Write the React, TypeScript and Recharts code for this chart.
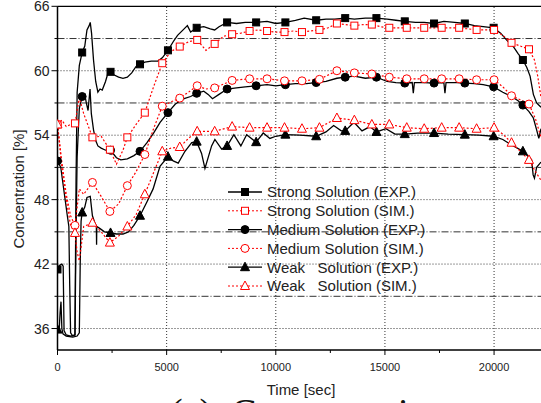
import { LineChart, Line, XAxis, YAxis, ReferenceLine } from 'recharts'

// time [s], concentration [%]
const expMarkT = [0, 1130, 2430, 3780, 5060, 6375, 7770, 9100, 10440, 11850, 13180, 14610, 15910, 17250, 18660, 19980, 21320]
const simMarkStep = 800

const strongExp = [
  [0, 41.5], [100, 41.9], [200, 42.0], [260, 41.8], [300, 35.8], [400, 35.4], [600, 35.3], [800, 35.4], [850, 50.0],
  [900, 58.0], [1000, 60.5], [1130, 61.7], [1250, 62.3], [1350, 63.8], [1450, 64.2], [1500, 64.5], [1560, 63.5],
  [1650, 61.0], [1750, 59.0], [1850, 58.0], [1950, 58.3], [2050, 58.2], [2200, 59.0], [2300, 59.7], [2430, 59.9],
  [2600, 59.6], [2800, 59.4], [3000, 59.3], [3200, 59.4], [3400, 59.8], [3600, 60.4], [3780, 60.6], [4000, 60.8],
  [4300, 60.9], [4600, 60.9], [4800, 61.2], [5060, 61.9], [5300, 62.7], [5500, 63.3], [5800, 63.9], [5950, 64.2],
  [6100, 63.6], [6375, 64.0], [6700, 64.1], [7000, 63.9], [7200, 63.8], [7400, 64.1], [7770, 64.5], [8200, 64.4],
  [8600, 64.5], [9100, 64.5], [9600, 64.6], [10000, 64.4], [10440, 64.5], [10900, 64.7], [11300, 64.9], [11850, 64.7],
  [12300, 64.8], [12700, 64.8], [13180, 64.9], [13600, 64.8], [14100, 64.9], [14610, 64.9], [15100, 64.8], [15500, 64.7],
  [15910, 64.6], [16400, 64.5], [16800, 64.5], [17250, 64.4], [17700, 64.6], [18200, 64.5], [18660, 64.4], [19100, 64.2],
  [19500, 64.1], [19980, 64.0], [20300, 63.5], [20600, 62.8], [20900, 62.2], [21100, 61.6], [21320, 61.0], [21500, 60.3],
  [21650, 59.5], [21800, 57.8], [21950, 57.0], [22150, 56.6],
]

const mediumExp = [
  [0, 51.6], [150, 51.0], [250, 49.5], [350, 48.0], [450, 46.5], [520, 45.5], [560, 40.0], [600, 35.6], [700, 35.3],
  [800, 35.4], [850, 45.0], [900, 52.0], [1000, 56.5], [1130, 57.6], [1250, 57.8], [1320, 57.0], [1400, 56.3],
  [1490, 58.3], [1550, 56.0], [1650, 54.5], [1750, 53.5], [1850, 53.0], [2000, 52.8], [2200, 52.6], [2430, 52.6],
  [2700, 51.9], [2900, 51.7], [3200, 51.8], [3500, 52.1], [3780, 52.5], [4100, 53.3], [4400, 54.2], [4700, 55.2],
  [5060, 56.1], [5400, 56.9], [5800, 57.4], [6100, 57.6], [6375, 57.9], [6700, 58.1], [6900, 57.8], [7100, 57.4],
  [7400, 57.8], [7770, 58.3], [8200, 58.4], [8600, 58.5], [9100, 58.6], [9600, 58.7], [10000, 58.6], [10440, 58.7],
  [10900, 58.8], [11400, 58.8], [11850, 58.9], [12300, 59.0], [12800, 59.3], [13180, 59.4], [13600, 59.5], [14100, 59.3],
  [14610, 59.4], [15100, 59.0], [15500, 58.9], [15910, 58.85], [16250, 58.9], [16300, 57.9], [16350, 58.9], [16800, 58.9],
  [17250, 58.85], [17700, 58.9], [17750, 57.9], [17800, 58.9], [18300, 58.9], [18660, 58.85], [19100, 58.8], [19500, 58.7],
  [19980, 58.5], [20400, 58.0], [20800, 57.6], [21100, 57.2], [21320, 56.8], [21600, 56.2], [21800, 55.6], [21950, 54.5],
  [22050, 53.7], [22150, 54.6],
]

const weakExp = [
  [0, 35.9], [80, 36.0], [120, 37.5], [160, 38.5], [200, 36.0], [250, 35.5], [400, 35.3], [700, 35.2], [900, 35.3],
  [1000, 35.6], [1040, 42.0], [1080, 46.0], [1130, 46.8], [1250, 47.3], [1350, 48.2], [1500, 48.3], [1600, 46.5],
  [1700, 45.9], [1780, 45.5], [1790, 43.8], [1800, 45.5], [1950, 45.3], [2150, 45.0], [2430, 44.9], [2700, 44.8],
  [3000, 44.8], [3250, 45.0], [3500, 45.6], [3780, 46.5], [4100, 47.8], [4380, 49.0], [4695, 51.1], [5060, 52.0],
  [5300, 51.6], [5530, 51.4], [5840, 52.5], [6150, 53.3], [6375, 53.4], [6600, 52.3], [6755, 50.9], [7060, 53.0],
  [7210, 53.6], [7520, 52.7], [7770, 53.0], [8080, 54.05], [8400, 53.0], [8665, 54.05], [9100, 53.35], [9425, 54.2],
  [9730, 53.7], [10000, 53.9], [10440, 54.05], [11100, 54.0], [11850, 53.9], [12300, 54.3], [12650, 54.9], [13000, 54.4],
  [13180, 54.4], [13580, 55.2], [13950, 54.4], [14310, 54.8], [14610, 54.3], [15045, 54.6], [15460, 54.1], [15910, 54.1],
  [16500, 54.2], [17250, 54.2], [17900, 54.1], [18660, 54.05], [19300, 54.0], [19980, 53.9], [20400, 53.6], [20800, 53.1],
  [21320, 52.5], [21720, 51.7], [21790, 50.3], [21850, 50.0], [21950, 51.0], [22150, 51.5],
]

const strongSim = [
  [0, 55.0], [200, 55.4], [400, 54.8], [600, 55.0], [800, 55.1], [1000, 57.5], [1200, 56.0], [1600, 53.8], [2000, 53.9],
  [2400, 52.65], [2700, 51.3], [3000, 52.6], [3200, 53.8], [3600, 55.0], [4000, 56.1], [4400, 58.5], [4800, 60.7],
  [5200, 61.8], [5600, 62.25], [6000, 62.7], [6400, 62.87], [6800, 61.9], [7200, 62.5], [7600, 63.2], [8000, 63.4],
  [8400, 63.5], [8800, 63.7], [9200, 63.8], [9600, 63.7], [10000, 63.6], [10400, 63.6], [10800, 63.7], [11200, 63.6],
  [11600, 63.7], [12000, 63.8], [12400, 64.0], [12800, 64.4], [13200, 64.3], [13600, 64.2], [14000, 64.3], [14400, 64.3],
  [14800, 64.1], [15200, 64.0], [16000, 64.0], [16800, 64.0], [17600, 64.0], [18400, 64.0], [19200, 63.8], [20000, 63.8],
  [20400, 63.3], [20800, 62.6], [21200, 62.3], [21600, 62.0], [21850, 61.0], [22000, 59.5], [22150, 57.5],
]

const mediumSim = [
  [0, 55.0], [200, 51.5], [400, 48.5], [600, 46.5], [800, 45.6], [1000, 49.0], [1200, 48.5], [1600, 49.6], [2000, 48.3],
  [2400, 46.9], [2800, 47.6], [3200, 49.3], [3600, 50.6], [4000, 52.2], [4400, 54.6], [4800, 56.7], [5200, 57.1],
  [5600, 57.45], [6000, 58.0], [6400, 58.6], [6800, 58.3], [7200, 58.4], [8000, 59.1], [8800, 59.25], [9600, 59.25],
  [10400, 59.06], [11200, 59.06], [12000, 59.2], [12800, 60.0], [13600, 59.8], [14400, 59.7], [15200, 59.4], [16000, 59.25],
  [16800, 59.25], [17600, 59.25], [18400, 59.25], [19200, 59.16], [20000, 59.16], [20400, 58.5], [20800, 57.67],
  [21200, 57.3], [21600, 56.9], [21900, 55.5], [22150, 53.8],
]

const weakSim = [
  [0, 55.0], [200, 51.0], [400, 48.0], [600, 45.6], [800, 44.9], [900, 43.1], [1000, 42.3], [1200, 45.5], [1600, 45.85],
  [2000, 45.0], [2400, 44.0], [2800, 44.6], [3200, 45.5], [3600, 46.6], [4000, 48.5], [4400, 50.5], [4800, 52.5],
  [5200, 52.8], [5600, 52.9], [6000, 53.7], [6400, 54.36], [7200, 54.36], [8000, 54.8], [8800, 54.7], [9600, 54.7],
  [10400, 54.7], [11200, 54.6], [12000, 54.7], [12800, 55.6], [13600, 55.4], [14400, 55.0], [15200, 55.0], [16000, 54.7],
  [16800, 54.6], [17600, 54.7], [18400, 54.7], [19200, 54.6], [20000, 54.7], [20400, 54.1], [20800, 53.3], [21200, 52.5],
  [21600, 51.7], [21900, 50.6], [22150, 49.8],
]

const xTicks = [0, 2500, 5000, 7500, 10000, 12500, 15000, 17500, 20000]
const yTicks = [36, 39, 42, 45, 48, 51, 54, 57, 60, 63, 66]
const gridDotY = [36, 42, 48, 54, 60]
const gridDashY = [39, 45, 51, 57, 63]
const gridX = [5000, 10000, 15000, 20000]

const series = [
  { key: 'strongExp', name: 'Strong Solution (EXP.)', pts: strongExp, shape: 'square', exp: true },
  { key: 'mediumExp', name: 'Medium Solution (EXP.)', pts: mediumExp, shape: 'circle', exp: true },
  { key: 'weakExp', name: 'Weak   Solution (EXP.)', pts: weakExp, shape: 'triangle', exp: true },
  { key: 'strongSim', name: 'Strong Solution (SIM.)', pts: strongSim, shape: 'square', exp: false },
  { key: 'mediumSim', name: 'Medium Solution (SIM.)', pts: mediumSim, shape: 'circle', exp: false },
  { key: 'weakSim', name: 'Weak   Solution (SIM.)', pts: weakSim, shape: 'triangle', exp: false },
]
const legendOrder = ['strongExp', 'strongSim', 'mediumExp', 'mediumSim', 'weakExp', 'weakSim']

const FONT = '"Liberation Sans", Arial, sans-serif'

function Marker({ shape, exp, cx, cy }: { shape: string; exp: boolean; cx: number; cy: number }) {
  const stroke = exp ? '#000' : '#f00'
  const fill = exp ? '#000' : '#fff'
  if (shape === 'square') return <rect x={cx - 3.5} y={cy - 3.5} width={7} height={7} fill={fill} stroke={stroke} />
  if (shape === 'circle') return <circle cx={cx} cy={cy} r={4} fill={fill} stroke={stroke} />
  return <polygon points={`${cx},${cy - 5} ${cx + 4.5},${cy + 3.5} ${cx - 4.5},${cy + 3.5}`} fill={fill} stroke={stroke} />
}

const XTick = ({ x, y, payload }: any) => {
  const major = payload.value % 5000 === 0
  return (
    <g>
      <line x1={x} x2={x} y1={y} y2={y + (major ? 5 : 3)} stroke="#000" />
      {major && (
        <text x={x} y={y + 20.5} textAnchor="middle" fontSize={11} fill="#222" fontFamily={FONT}>
          {payload.value}
        </text>
      )}
    </g>
  )
}

const YTick = ({ x, y, payload }: any) => {
  const major = payload.value % 6 === 0
  return (
    <g>
      <line x1={x - (major ? 6 : 3)} x2={x} y1={y} y2={y} stroke="#000" />
      {major && (
        <text x={x - 8} y={y + 5} textAnchor="end" fontSize={14} fill="#222" fontFamily={FONT}>
          {payload.value}
        </text>
      )}
    </g>
  )
}

function LegendBox() {
  return (
    <svg width={230} height={120} style={{ position: 'absolute', left: 226, top: 182 }}>
      {legendOrder.map((k, i) => {
        const s = series.find((d) => d.key === k)!
        const cy = 10 + i * 18.8
        return (
          <g key={k}>
            <line x1={2} x2={36} y1={cy} y2={cy} stroke={s.exp ? '#000' : '#f00'} strokeWidth={s.exp ? 1.3 : 1}
              strokeDasharray={s.exp ? undefined : '2 2'} />
            <Marker shape={s.shape} exp={s.exp} cx={19} cy={cy} />
            <text x={41} y={cy + 5.3} fontSize={15} fill="#222" fontFamily={FONT} style={{ whiteSpace: 'pre' }}>
              {s.name}
            </text>
          </g>
        )
      })}
    </svg>
  )
}

export default function App() {
  return (
    <div style={{ position: 'absolute', left: 0, top: 0, width: 541, height: 403, background: '#fff', overflow: 'hidden', fontFamily: FONT }}>
      <LineChart width={541} height={403} margin={{ top: 6.3, right: 0, left: 0, bottom: 0 }}>
        <XAxis type="number" dataKey="t" domain={[0, 22150]} allowDataOverflow ticks={xTicks} interval={0}
          height={53} tickSize={0} tickMargin={0} tickLine={false} tick={<XTick />}
          axisLine={{ stroke: '#000', strokeWidth: 1.5 }} />
        <YAxis type="number" dataKey="v" domain={[34, 66]} allowDataOverflow ticks={yTicks} interval={0}
          width={57.5} tickSize={0} tickMargin={0} tickLine={false} tick={<YTick />}
          axisLine={{ stroke: '#000', strokeWidth: 1.5 }} />
        {gridDotY.map((v) => (
          <ReferenceLine key={'gy' + v} y={v} stroke="#333" strokeDasharray="1 2" />
        ))}
        {gridDashY.map((v) => (
          <ReferenceLine key={'gd' + v} y={v} stroke="#333" strokeDasharray="7 2 1 2" />
        ))}
        {gridX.map((v) => (
          <ReferenceLine key={'gx' + v} x={v} stroke="#333" strokeDasharray="1 2" />
        ))}
        <ReferenceLine y={66} stroke="#000" strokeWidth={1.2} />
        {series.map((s) => {
          const rows = s.pts.map(([t, v]) => ({
            t,
            v,
            m: s.exp ? expMarkT.includes(t) : t % simMarkStep === 0,
          }))
          return (
            <Line key={s.key} data={rows} dataKey="v" name={s.name} type="linear"
              stroke={s.exp ? '#000' : '#f00'} strokeWidth={s.exp ? 1.3 : 1.2}
              strokeDasharray={s.exp ? undefined : '2 2'}
              dot={(p: any) =>
                p.payload.m ? (
                  <Marker key={s.key + p.index} shape={s.shape} exp={s.exp} cx={p.cx} cy={p.cy} />
                ) : (
                  <g key={s.key + p.index} />
                )
              }
              activeDot={false} isAnimationActive={false} />
          )
        })}
      </LineChart>
      <LegendBox />
      <svg width={541} height={403} style={{ position: 'absolute', left: 0, top: 0, pointerEvents: 'none' }}>
        <text transform="translate(23.5,189) rotate(-90)" textAnchor="middle" fontSize={15} fill="#222" fontFamily={FONT}>
          Concentration [%]
        </text>
        <text x={301} y={394.5} textAnchor="middle" fontSize={15} fill="#222" fontFamily={FONT}>
          Time [sec]
        </text>
        <text x={170} y={425} fontSize={38} fill="#111" fontFamily='"Liberation Serif", "Times New Roman", serif' style={{ whiteSpace: 'pre' }}>
          (c)  Concentration
        </text>
      </svg>
    </div>
  )
}
